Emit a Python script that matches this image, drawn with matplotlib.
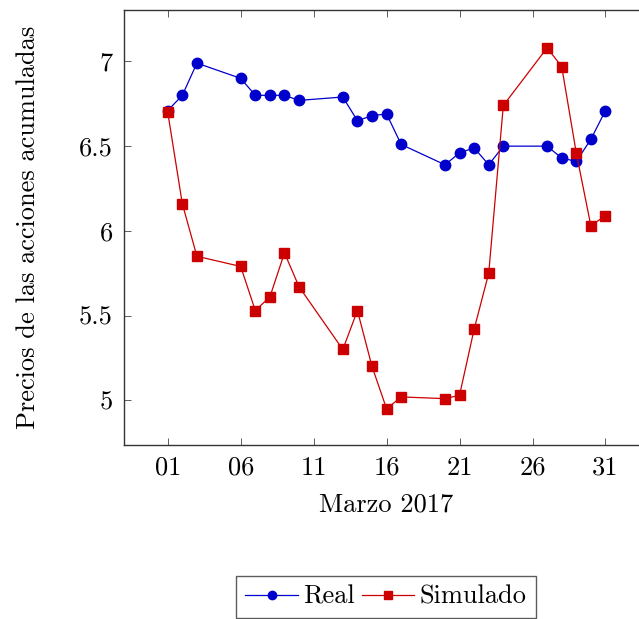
import numpy as np
import matplotlib
matplotlib.use("Agg")
import matplotlib.pyplot as plt

plt.rcParams['font.family'] = 'serif'
plt.rcParams['font.serif'] = ['cmr10', 'DejaVu Serif']
plt.rcParams['mathtext.fontset'] = 'cm'
plt.rcParams['axes.formatter.use_mathtext'] = True

# dias de marzo con cotizacion
dias = [1, 2, 3, 6, 7, 8, 9, 10, 13, 14, 15, 16, 17, 20, 21, 22, 23, 24, 27, 28, 29, 30, 31]
real = [6.71, 6.80, 6.99, 6.90, 6.80, 6.80, 6.80, 6.77, 6.79, 6.65, 6.68, 6.69, 6.51,
        6.39, 6.46, 6.49, 6.39, 6.50, 6.50, 6.43, 6.41, 6.54, 6.71]
simulado = [6.70, 6.16, 5.85, 5.79, 5.53, 5.61, 5.87, 5.67, 5.30, 5.53, 5.20, 4.95, 5.02,
            5.01, 5.03, 5.42, 5.75, 6.74, 7.08, 6.97, 6.46, 6.03, 6.09]
xticks = [1, 6, 11, 16, 21, 26, 31]
xlabels = ['01', '06', '11', '16', '21', '26', '31']
yticks = [5, 5.5, 6, 6.5, 7]
ylabels = ['5', '5.5', '6', '6.5', '7']

fig = plt.figure(figsize=(6.39, 6.19), dpi=100)
ax = fig.add_axes([0.194, 0.281, 0.822, 0.703])

ax.plot(dias, real, color='#0000cc', lw=0.9, marker='o', ms=7.5, label='Real')
ax.plot(dias, simulado, color='#cc0000', lw=0.9, marker='s', ms=7.5, label='Simulado')

ax.set_xlim(-2, 34)
ax.set_ylim(4.736, 7.304)
ax.set_xticks(xticks)
ax.set_xticklabels(xlabels)
ax.set_yticks(yticks)
ax.set_yticklabels(ylabels)
ax.tick_params(direction='in', top=True, right=True, length=5, width=0.6,
               color='#444444', labelsize=19, pad=8)
for s in ax.spines.values():
    s.set_linewidth(1.0)
    s.set_color('#333333')

ax.set_xlabel('Marzo 2017', fontsize=19, labelpad=9)
ax.set_ylabel('Precios de las acciones acumuladas', fontsize=19, labelpad=28)

leg = fig.legend(loc='upper center', bbox_to_anchor=(386 / 639, 1 - 576 / 619), ncol=2,
                 fontsize=19, frameon=True, fancybox=False, edgecolor='#333333',
                 handlelength=2.0, columnspacing=0.25, handletextpad=0.2,
                 borderpad=0.35, borderaxespad=0, markerscale=0.8)
leg.get_frame().set_linewidth(1.0)

fig.savefig('out.png', dpi=100)
